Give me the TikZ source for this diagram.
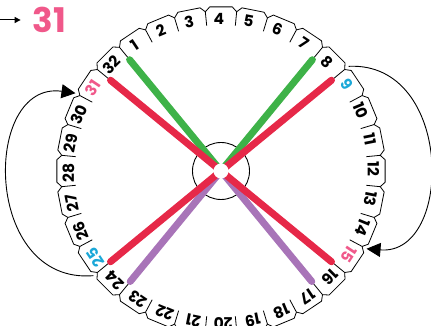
\documentclass[tikz,border=0pt]{standalone}
\usepackage{fontspec}
\setmainfont{Poppins}
\usetikzlibrary{arrows.meta}
\definecolor{cgreen}{RGB}{62,178,72}
\definecolor{cred}{RGB}{230,40,72}
\definecolor{cpurple}{RGB}{168,116,184}
\definecolor{cpink}{RGB}{240,88,138}
\definecolor{ccyan}{RGB}{27,168,216}
\begin{document}
\begin{tikzpicture}[x=1pt,y=1pt,
  tabline/.style={line width=0.8pt, line join=miter},
  lab/.style={font=\fontsize{15.5}{15.5}\selectfont\bfseries, inner sep=0pt},
  chord/.style={line width=7pt, line cap=round},
  bendarrow/.style={line width=0.9pt, -{Triangle[length=14pt,width=14pt]}},
]
\useasboundingbox (0,0) rectangle (431,326);
\coordinate (C) at (221,155);
\begin{scope}[shift={(C)}]
\foreach \k in {1,...,32}{
  \pgfmathsetmacro\t{90-(\k-4)*11.25}
  \pgfmathsetmacro\a{\t+5.625}
  \pgfmathsetmacro\b{\t-5.625}
  \pgfmathsetmacro\ai{\a-1.7}
  \pgfmathsetmacro\bi{\b+1.7}
  \pgfmathsetmacro\rot{\t-90}
  \pgfmathsetmacro\tl{\t+0.8}
  \ifnum\k=31 \def\lc{cpink}\else\ifnum\k=15 \def\lc{cpink}\else\ifnum\k=9 \def\lc{ccyan}\else\ifnum\k=25 \def\lc{ccyan}\else\def\lc{black}\fi\fi\fi\fi
  \draw[tabline] (\a:146) -- (\a:160) -- (\ai:164.5) -- (\bi:164.5) -- (\b:160);
  \coordinate (j\k) at (\b:165);
  \node[lab, text=\lc, rotate=\rot] (n\k) at (\tl:152.5) {\k};
}
\coordinate (g1) at (129.4:144);
\coordinate (g2) at (50.6:144);
\coordinate (p1) at (-129.4:143);
\coordinate (p2) at (-50.6:143);
\coordinate (r1a) at (140.6:143);
\coordinate (r1b) at (-39.4:143);
\coordinate (r2a) at (39.4:143);
\coordinate (r2b) at (-140.6:143);
\end{scope}
\draw[line width=0.9pt] (C) circle[radius=28.5];
\draw[chord, cgreen] (g1) -- (C);
\draw[chord, cgreen] (g2) -- (C);
\draw[chord, cpurple] (p1) -- (C);
\draw[chord, cpurple] (p2) -- (C);
\draw[chord, cred] (r1a) -- (r1b);
\draw[chord, cred] (r2a) -- (r2b);
\fill[white] (C) circle[radius=7.5];
\draw[bendarrow] (j8) .. controls (454,265) and (454,70) .. (j14);
\draw[bendarrow] (j24) .. controls (-18,41) and (-18,246) .. (j30);
\node[font=\fontsize{34}{34}\selectfont\bfseries, text=cpink, inner sep=0pt] (big) at (49.5,306) {31};
\coordinate (as) at (0,306);
\draw[line width=1pt, -{Triangle[length=6pt,width=6pt]}] (as) -- ([xshift=-12pt]big.west);
\end{tikzpicture}
\end{document}
